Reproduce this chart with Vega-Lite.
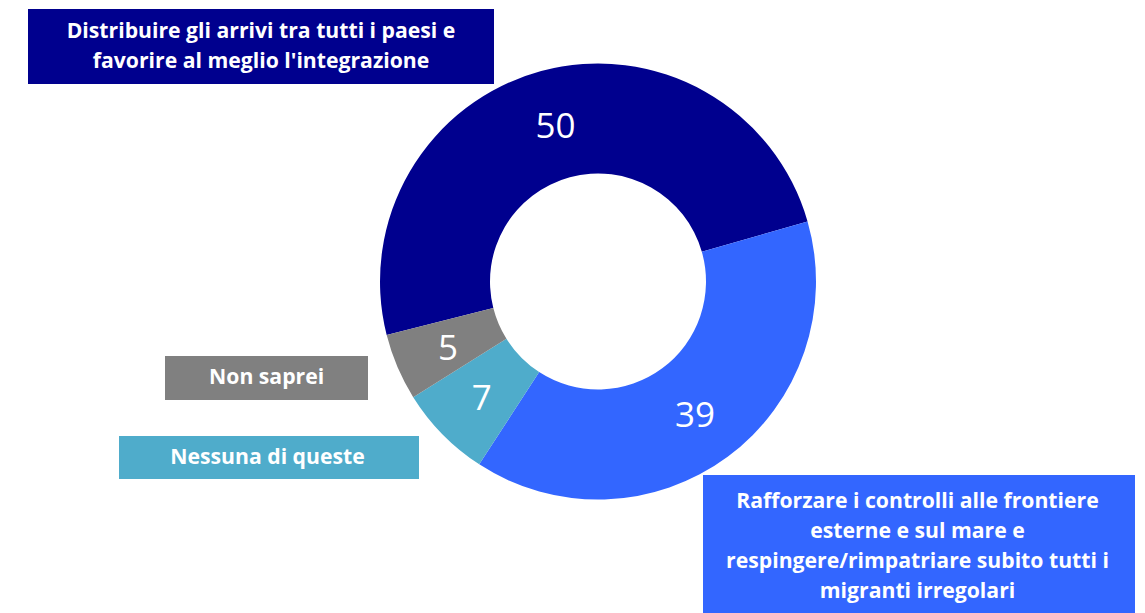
{
  "$schema": "https://vega.github.io/schema/vega-lite/v6.json",
  "autosize": "none",
  "width": 1094,
  "height": 563,
  "padding": {"left": 51, "top": 0, "right": 0, "bottom": 50},
  "background": "white",
  "config": {"view": {"stroke": null}},
  "data": {
    "values": [
      {"categoria": "Distribuire gli arrivi tra tutti i paesi e\nfavorire al meglio l'integrazione", "valore": 50},
      {"categoria": "Rafforzare i controlli alle frontiere\nesterne e sul mare e\nrespingere/rimpatriare subito tutti i\nmigranti irregolari", "valore": 39},
      {"categoria": "Nessuna di queste", "valore": 7},
      {"categoria": "Non saprei", "valore": 5}
    ]
  },
  "encoding": {
    "color": {
      "field": "valore",
      "type": "nominal",
      "scale": {"domain": [50, 39, 7, 5], "range": ["#00008E", "#3366FF", "#4FACCB", "#808080"]},
      "legend": null
    }
  },
  "layer": [
    {
      "mark": {"type": "arc", "radius": 218, "innerRadius": 108},
      "encoding": {
        "theta": {"field": "valore", "type": "quantitative", "stack": true, "scale": {"type": "linear", "range": [4.4642, 10.7474]}},
        "order": {"field": "valore", "type": "quantitative", "sort": "descending"}
      }
    },
    {
      "mark": {"type": "text", "radius": 163, "dy": 3, "font": "Open Sans", "fontSize": 35, "color": "white", "align": "center", "baseline": "middle"},
      "encoding": {
        "theta": {"field": "valore", "type": "quantitative", "stack": true},
        "order": {"field": "valore", "type": "quantitative", "sort": "descending"},
        "text": {"field": "valore", "type": "quantitative"},
        "color": {"value": "white"}
      }
    },
    {
      "mark": {"type": "point", "filled": true, "opacity": 1, "size": 4, "strokeWidth": 0},
      "encoding": {
        "shape": {
          "field": "valore",
          "type": "nominal",
          "scale": {
            "domain": [50, 39, 7, 5],
            "range": [
              "M-570,-272.5H-104V-197.5H-570Z",
              "M105,193.5H537V331.5H105Z",
              "M-479,154.5H-179V197.5H-479Z",
              "M-433,74.5H-230V118.5H-433Z"
            ]
          },
          "legend": null
        }
      }
    },
    {
      "transform": [{"filter": {"field": "valore", "equal": 50}}],
      "mark": {"type": "text", "font": "Open Sans", "fontWeight": "bold", "fontSize": 21.2, "lineHeight": 30, "lineBreak": "\n", "color": "white", "align": "center", "baseline": "middle", "dx": -337, "dy": -249.7},
      "encoding": {"text": {"field": "categoria", "type": "nominal"}, "color": {"value": "white"}}
    },
    {
      "transform": [{"filter": {"field": "valore", "equal": 39}}],
      "mark": {"type": "text", "font": "Open Sans", "fontWeight": "bold", "fontSize": 21.2, "lineHeight": 30, "lineBreak": "\n", "color": "white", "align": "center", "baseline": "middle", "dx": 319.5, "dy": 220.2},
      "encoding": {"text": {"field": "categoria", "type": "nominal"}, "color": {"value": "white"}}
    },
    {
      "transform": [{"filter": {"field": "valore", "equal": 7}}],
      "mark": {"type": "text", "font": "Open Sans", "fontWeight": "bold", "fontSize": 21.2, "lineHeight": 30, "lineBreak": "\n", "color": "white", "align": "center", "baseline": "middle", "dx": -330.5, "dy": 176},
      "encoding": {"text": {"field": "categoria", "type": "nominal"}, "color": {"value": "white"}}
    },
    {
      "transform": [{"filter": {"field": "valore", "equal": 5}}],
      "mark": {"type": "text", "font": "Open Sans", "fontWeight": "bold", "fontSize": 21.2, "lineHeight": 30, "lineBreak": "\n", "color": "white", "align": "center", "baseline": "middle", "dx": -331.4, "dy": 96.5},
      "encoding": {"text": {"field": "categoria", "type": "nominal"}, "color": {"value": "white"}}
    }
  ]
}
